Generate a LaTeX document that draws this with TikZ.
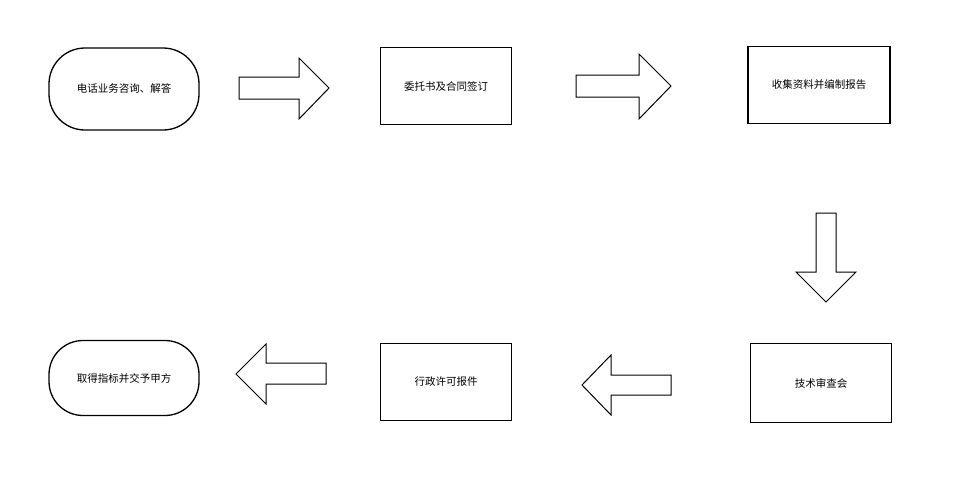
\documentclass[tikz,border=0pt]{standalone}
\usepackage{fontspec}
\setmainfont{Noto Sans CJK SC}
\begin{document}
\begin{tikzpicture}[x=1pt,y=-1pt,
  box/.style={draw,line width=1.3pt,minimum width=#1,font=\fontsize{10.5}{12}\selectfont,inner sep=0pt},
  barr/.style={draw,line width=1pt,fill=white}]
\useasboundingbox (0,0) rectangle (954,485);
\node[box=150pt,minimum height=82pt,rounded corners=36pt] (a) at (124,89) {电话业务咨询、解答};
\node[box=131pt,minimum height=77pt] (b) at (446,86) {委托书及合同签订};
\node[box=142pt,minimum height=77pt] (c) at (819,85) {收集资料并编制报告};
\node[box=141pt,minimum height=79pt] (d) at (821,383) {技术审查会};
\node[box=131pt,minimum height=77pt] (e) at (446,382) {行政许可报件};
\node[box=150pt,minimum height=75pt,rounded corners=34pt] (f) at (124,378) {取得指标并交予甲方};
\draw[barr] (239,77) -- (299,77) -- (299,58) -- (329,88) -- (299,119) -- (299,99) -- (239,99) -- cycle;
\draw[barr] (576,75) -- (639,75) -- (639,54) -- (671,86) -- (639,119) -- (639,97) -- (576,97) -- cycle;
\draw[barr] (816,213) -- (836,213) -- (836,272) -- (856,272) -- (826,302) -- (796,272) -- (816,272) -- cycle;
\draw[barr] (671,375) -- (611,375) -- (611,355) -- (582,385) -- (611,415) -- (611,395) -- (671,395) -- cycle;
\draw[barr] (326,363) -- (266,363) -- (266,344) -- (236,374) -- (266,404) -- (266,384) -- (326,384) -- cycle;
\end{tikzpicture}
\end{document}
